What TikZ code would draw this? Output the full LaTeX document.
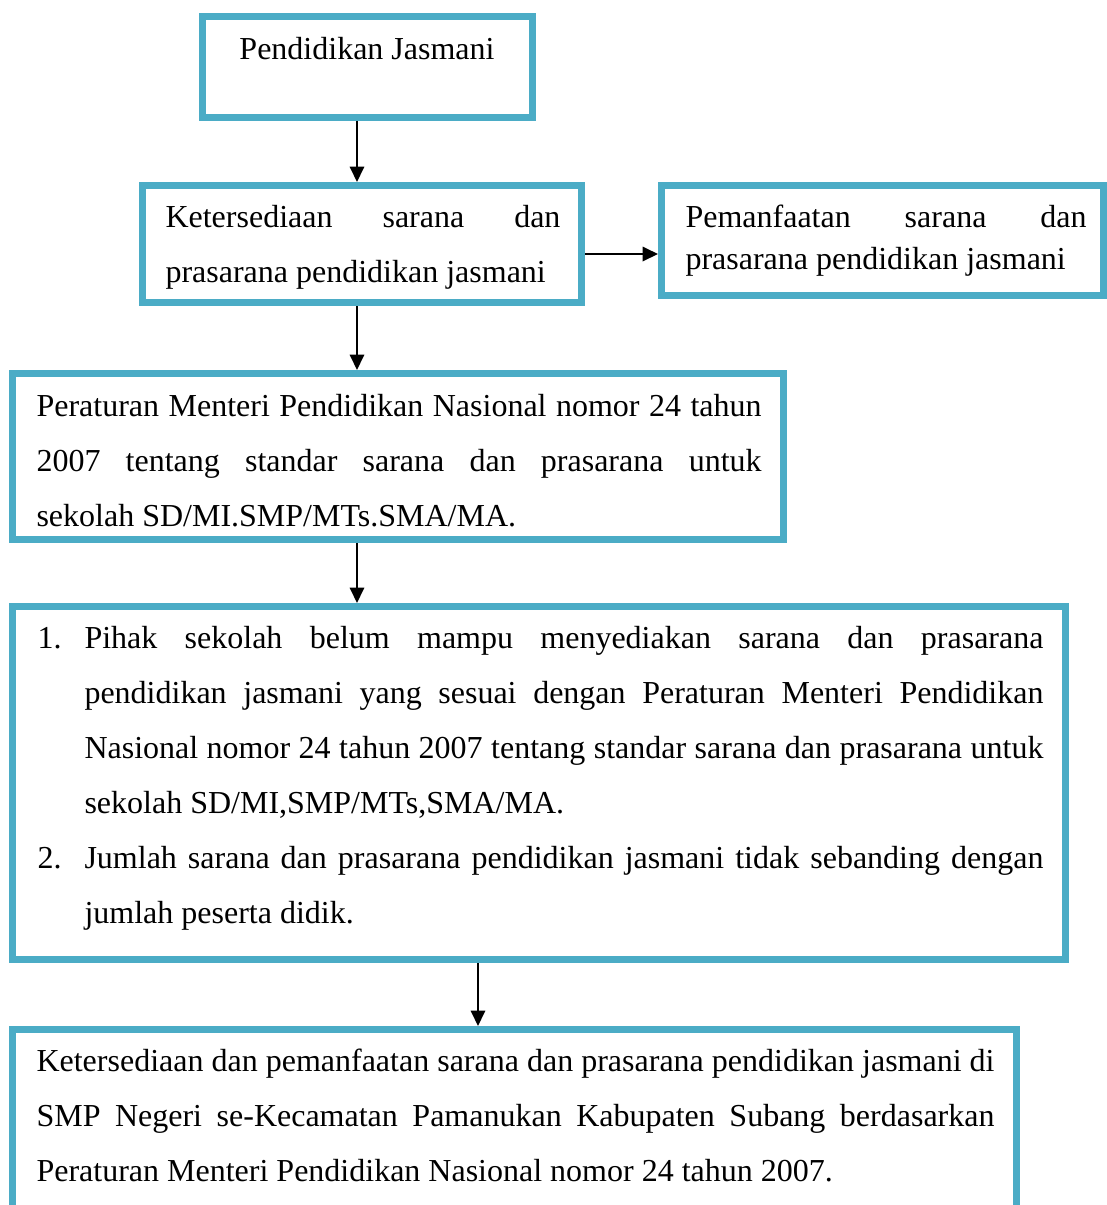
\documentclass[tikz,border=0pt]{standalone}
\usepackage{fontspec}
\setmainfont{Liberation Serif}
\usetikzlibrary{arrows.meta}
\definecolor{bxc}{HTML}{4BACC6}
\newcommand{\jl}[2]{\makebox[#1][s]{#2}}
\begin{document}
\begin{tikzpicture}[x=0.375pt,y=-0.375pt,
 bx/.style={draw=bxc, line width=2.625pt, rectangle, inner sep=0pt},
 arr/.style={draw=black, line width=0.8pt, -{Triangle[length=5.8pt,width=5.4pt]}},
 tx/.style={anchor=base west, inner sep=0pt, font=\fontsize{12}{14}\selectfont}]
\clip (0,0) rectangle (1107,1205);
\useasboundingbox (0,0) rectangle (1107,1205);

\node[bx, minimum width=330*0.375pt, minimum height=101*0.375pt] (b1) at (367,66.5) {};
\node[bx, minimum width=439*0.375pt, minimum height=117*0.375pt] (b2) at (362,244) {};
\node[bx, minimum width=442*0.375pt, minimum height=110*0.375pt] (b3) at (882.5,240.5) {};
\node[bx, minimum width=771*0.375pt, minimum height=166*0.375pt] (b4) at (398,456.5) {};
\node[bx, minimum width=1053*0.375pt, minimum height=353*0.375pt] (b5) at (539,783) {};
\node[bx, minimum width=1004*0.375pt, minimum height=421*0.375pt] (b6) at (514.5,1240) {};

\coordinate (xa) at (357,0);
\coordinate (xb) at (478,0);
\coordinate (ya) at (0,254);
\draw[arr] (b1.south -| xa) -- (b2.north -| xa);
\draw[arr] (b2.east |- ya) -- (b3.west |- ya);
\draw[arr] (b2.south -| xa) -- (b4.north -| xa);
\draw[arr] (b4.south -| xa) -- (b5.north -| xa);
\draw[arr] (b5.south -| xb) -- (b6.north -| xb);

\node[tx, anchor=base] (t1) at (367,59) {Pendidikan Jasmani};
\node[tx] (t2a) at (165,227) {\jl{148.1pt}{Ketersediaan sarana dan}};
\node[tx] (t2b) at (165,282) {prasarana pendidikan jasmani};
\node[tx] (t3a) at (685,227) {\jl{150.4pt}{Pemanfaatan sarana dan}};
\node[tx] (t3b) at (685,269) {prasarana pendidikan jasmani};
\node[tx] (t4a) at (36,416) {\jl{271.9pt}{Peraturan Menteri Pendidikan Nasional nomor 24 tahun}};
\node[tx] (t4b) at (36,471) {\jl{271.9pt}{2007 tentang standar sarana dan prasarana untuk}};
\node[tx] (t4c) at (36,526) {sekolah SD/MI.SMP/MTs.SMA/MA.};
\node[tx] (n1) at (37,648) {1.};
\node[tx] (t5a) at (84,648) {\jl{359.6pt}{Pihak sekolah belum mampu menyediakan sarana dan prasarana}};
\node[tx] (t5b) at (84,703) {\jl{359.6pt}{pendidikan jasmani yang sesuai dengan Peraturan Menteri Pendidikan}};
\node[tx] (t5c) at (84,758) {\jl{359.6pt}{Nasional nomor 24 tahun 2007 tentang standar sarana dan prasarana untuk}};
\node[tx] (t5d) at (84,813) {sekolah SD/MI,SMP/MTs,SMA/MA.};
\node[tx] (n2) at (37,868) {2.};
\node[tx] (t5e) at (84,868) {\jl{359.6pt}{Jumlah sarana dan prasarana pendidikan jasmani tidak sebanding dengan}};
\node[tx] (t5f) at (84,923) {jumlah peserta didik.};
\node[tx] (t6a) at (36,1071) {\jl{359.25pt}{Ketersediaan dan pemanfaatan sarana dan prasarana pendidikan jasmani di}};
\node[tx] (t6b) at (36,1126) {\jl{359.25pt}{SMP Negeri se-Kecamatan Pamanukan Kabupaten Subang berdasarkan}};
\node[tx] (t6c) at (36,1181) {Peraturan Menteri Pendidikan Nasional nomor 24 tahun 2007.};
\end{tikzpicture}
\end{document}
